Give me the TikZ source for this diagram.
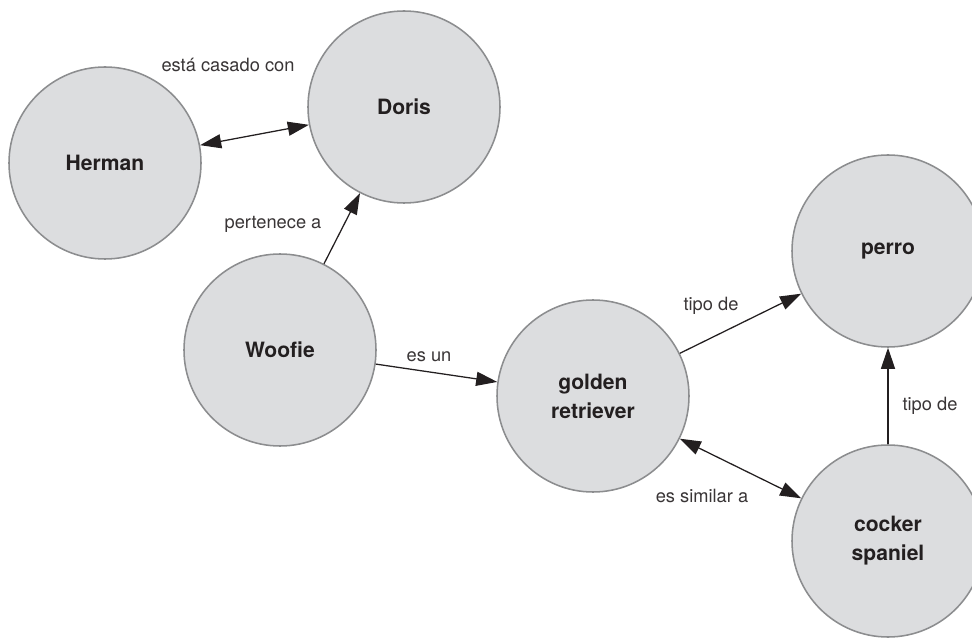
\documentclass[tikz,border=0pt]{standalone}
\usepackage{fontspec}
\setmainfont{TeX Gyre Heros}
\usetikzlibrary{arrows.meta}

\definecolor{ink}{HTML}{231F20}
\definecolor{disc}{HTML}{DCDDDF}
\definecolor{rim}{HTML}{8C8D8F}

\tikzset{
  concept/.style={circle, draw=rim, line width=1.1pt, fill=disc, minimum size=4.8cm,
    inner sep=0pt, align=center, text=ink, font=\fontsize{15}{20.5}\selectfont\bfseries},
  rel/.style={text=ink!90, font=\fontsize{13}{15}\selectfont},
  link/.style={draw=ink, line width=0.9pt, -{Triangle[length=15pt, width=10pt]}},
  twoway/.style={draw=ink, line width=0.9pt, {Triangle[length=15pt, width=10pt]}-{Triangle[length=15pt, width=10pt]}}
}

\begin{document}
\begin{tikzpicture}
      \useasboundingbox (0,0) rectangle (24.3,15.925);
      % Concepts:
      \node[concept] (herman) at (2.625,11.85) {Herman};
      \node[concept] (doris) at (10.1,13.25) {Doris};
      \node[concept] (woofie) at (7.0,7.175) {Woofie};
      \node[concept] (golden) at (14.825,6.025) {golden\\retriever};
      \node[concept] (perro) at (22.2,9.65) {perro};
      \node[concept] (cocker) at (22.2,2.4) {cocker\\spaniel};
      % Relations:
      \draw[twoway] (herman) -- (doris);
      \draw[link] (woofie) -- (doris);
      \draw[link] (woofie) -- (golden);
      \draw[link] (golden) -- (perro);
      \draw[link] (cocker) -- (perro);
      \draw[twoway] (golden) -- (cocker);
      % Labels:
      \node[rel] (casado) at (5.7,14.3) {está casado con};
      \node[rel] (pertenece) at (6.825,10.325) {pertenece a};
      \node[rel] (esun) at (10.725,7.0) {es un};
      \node[rel] (tipoa) at (17.775,8.275) {tipo de};
      \node[rel] (tipob) at (23.25,5.775) {tipo de};
      \node[rel] (similar) at (17.55,3.525) {es similar a};
    \end{tikzpicture}
\end{document}
